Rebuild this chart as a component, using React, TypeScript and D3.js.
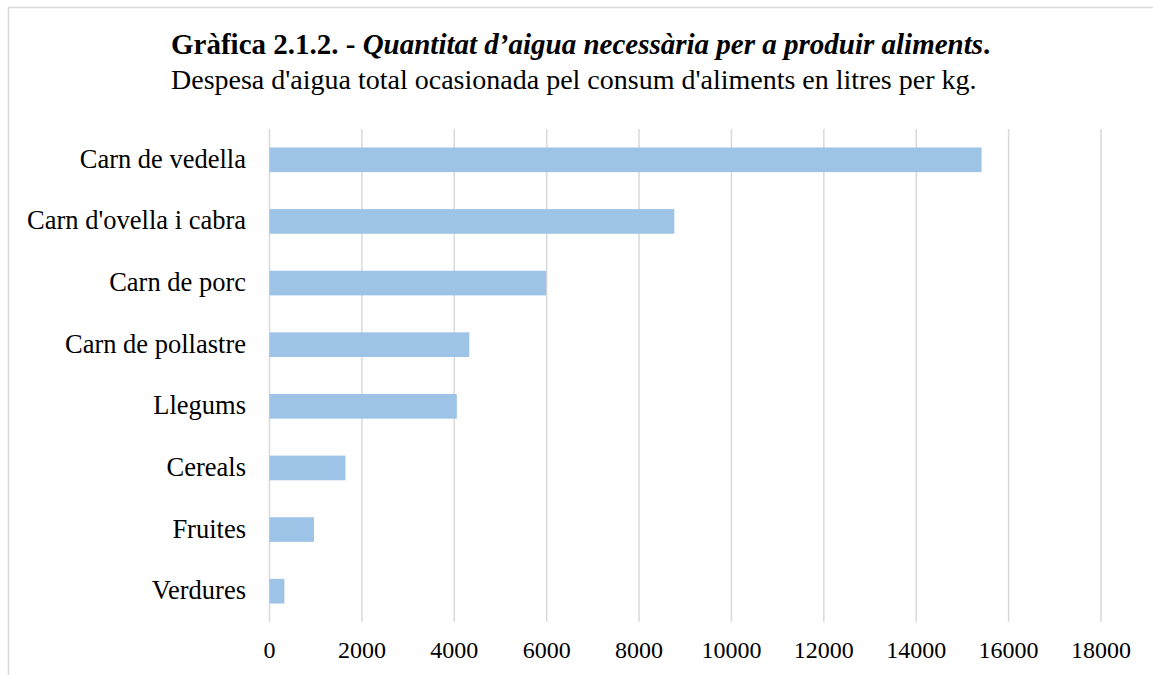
import React from "react";
import * as d3 from "d3";

const categories = [
  "Carn de vedella",
  "Carn d'ovella i cabra",
  "Carn de porc",
  "Carn de pollastre",
  "Llegums",
  "Cereals",
  "Fruites",
  "Verdures",
];
const values = [15415, 8763, 5988, 4325, 4055, 1644, 962, 322];
const ticks = [0, 2000, 4000, 6000, 8000, 10000, 12000, 14000, 16000, 18000];

const W = 1153;
const H = 675;
const FONT = "'Liberation Serif', 'Times New Roman', serif";

export default function App() {
  const x = d3.scaleLinear().domain([0, 18000]).range([269.5, 1101]);
  const y = d3
    .scaleBand<string>()
    .domain(categories)
    .range([129, 622])
    .paddingInner(0.6)
    .paddingOuter(0.3);

  return (
    <svg
      width={W}
      height={H}
      style={{ position: "absolute", left: 0, top: 0, background: "#fff" }}
      fontFamily={FONT}
    >
      <rect x={0} y={0} width={W} height={H} fill="#fff" />
      <rect
        x={8.5}
        y={7.5}
        width={W + 10}
        height={H + 10}
        fill="none"
        stroke="#d9d9d9"
        strokeWidth={1.5}
      />
      <text x={171} y={54} fontSize={29} fill="#000">
        <tspan fontWeight="bold">Gràfica 2.1.2. - </tspan>
        <tspan fontWeight="bold" fontStyle="italic">
          Quantitat d’aigua necessària per a produir aliments
        </tspan>
        <tspan fontWeight="bold">.</tspan>
      </text>
      <text x={171} y={89} fontSize={28} fill="#000">
        Despesa d'aigua total ocasionada pel consum d'aliments en litres per kg.
      </text>
      {ticks.map((t) => (
        <g key={t}>
          <line
            x1={x(t)}
            x2={x(t)}
            y1={129}
            y2={622}
            stroke="#d9d9d9"
            strokeWidth={1.5}
          />
          <text
            x={x(t)}
            y={658}
            textAnchor="middle"
            fontSize={24}
            fill="#000"
          >
            {t}
          </text>
        </g>
      ))}
      {categories.map((c, i) => (
        <g key={c}>
          <rect
            x={x(0)}
            y={y(c)!}
            width={x(values[i]) - x(0)}
            height={y.bandwidth()}
            fill="#9dc3e6"
          />
          <text
            x={246}
            y={y(c)! + y.bandwidth() / 2 + 8}
            textAnchor="end"
            fontSize={26.5}
            fill="#000"
          >
            {c}
          </text>
        </g>
      ))}
    </svg>
  );
}
